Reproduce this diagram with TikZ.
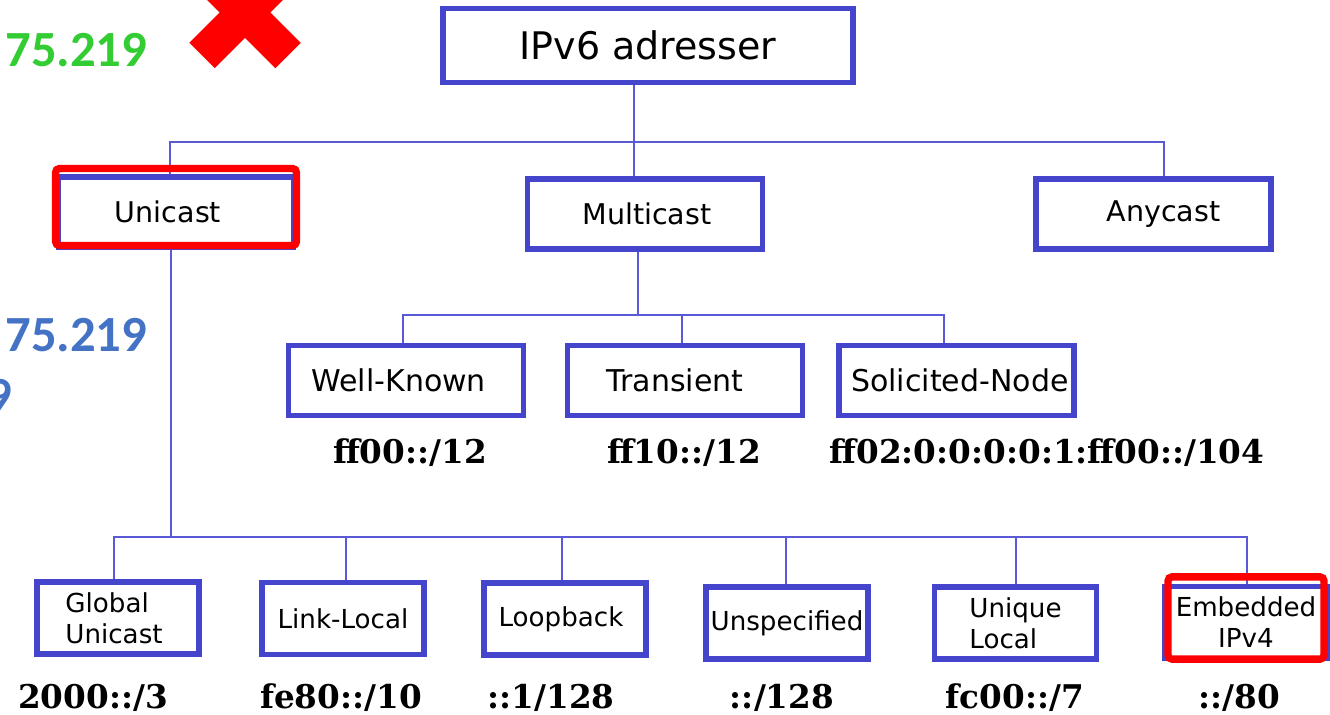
\documentclass[tikz,border=0pt]{standalone}
\usepackage{fontspec}
\setmainfont{DejaVu Sans}
\newfontfamily\addrfont{DejaVu Serif}
\newfontfamily\numfont{Carlito}
\usetikzlibrary{backgrounds}
\definecolor{boxblue}{RGB}{68,68,204}
\definecolor{lineblue}{RGB}{90,90,214}
\definecolor{markred}{RGB}{255,0,0}
\definecolor{numgreen}{RGB}{51,204,51}
\definecolor{numblue}{RGB}{68,114,196}

\begin{document}
\begin{tikzpicture}[x=0.75pt, y=-0.75pt,
  box/.style = {draw=boxblue, line width=4pt, fill=white, inner sep=0pt},
  boxtop/.style = {box, minimum width=307.5pt, minimum height=55.5pt, font=\fontsize{28.5}{34}\selectfont},
  boxmid/.style = {box, minimum width=176.25pt, minimum height=52.5pt, font=\fontsize{21.4}{26}\selectfont},
  boxsub/.style = {box, minimum width=176.25pt, minimum height=52.5pt, font=\fontsize{22.5}{27}\selectfont},
  boxlow/.style = {box, minimum width=121.5pt, minimum height=54pt, font=\fontsize{19.6}{23.3}\selectfont},
  addr/.style = {anchor=base, font=\addrfont\bfseries\fontsize{24.5}{29}\selectfont},
  wire/.style = {draw=lineblue, line width=1.5pt},
  redbox/.style = {draw=markred, line width=5.5pt, rounded corners=3pt, inner sep=0pt},
  num/.style = {anchor=base east, font=\numfont\bfseries\fontsize{38}{46}\selectfont}]
  \useasboundingbox (0,0) rectangle (1330,714);
  \clip (0,0) rectangle (1330,714);

  % boxes
  \node[boxtop] (root) at (648,45.5) {IPv6 adresser};
  \node[boxmid] (uni) at (176,212) {Unicast\hspace*{12pt}};
  \node[boxmid] (multi) at (645,214) {\hspace*{3pt}Multicast};
  \node[boxmid] (any) at (1153.5,214) {\hspace*{15pt}Anycast};

  \node[boxsub] (well) at (406,380.5) {Well-Known\hspace*{11pt}};
  \node[boxsub] (trans) at (685,380.5) {Transient\hspace*{15pt}};
  \node[boxsub] (solic) at (956.5,380.5) {\hspace*{5pt}Solicited-Node};

  \node[boxlow, align=left] (glob) at (118,618) {Global\\Unicast\hspace*{6pt}};
  \node[boxlow] (link) at (343,618.5) {Link-Local};
  \node[boxlow] (loop) at (565,619) {Loopback\hspace*{6pt}};
  \node[boxlow] (unspec) at (787,623) {Unspecified};
  \node[boxlow, align=left] (uniq) at (1015.5,623) {Unique\\Local\hspace*{18pt}};
  \node[boxlow, align=center] (embed) at (1246,622.5) {Embedded\\IPv4};

  % prefixes
  \node[addr] (wellAdr) at (410,463) {ff00::/12};
  \node[addr] (transAdr) at (684,463) {ff10::/12};
  \node[addr] (solicAdr) at (1047,463) {ff02:0:0:0:0:1:ff00::/104};
  \node[addr] (globAdr) at (93,708) {2000::/3};
  \node[addr] (linkAdr) at (341,708) {fe80::/10};
  \node[addr] (loopAdr) at (551,708) {::1/128};
  \node[addr] (unspecAdr) at (782,708) {::/128};
  \node[addr] (uniqAdr) at (1015,708) {fc00::/7};
  \node[addr] (embedAdr) at (1239,708) {::/80};

  % tree lines
  \coordinate (j1) at (633.5,141.5);
  \coordinate (tu) at (169.5,141.5);
  \coordinate (ta) at (1164,141.5);
  \coordinate (j2) at (637.5,315);
  \coordinate (tw) at (403,315);
  \coordinate (tt) at (682,315);
  \coordinate (ts) at (943.5,315);
  \coordinate (j3) at (170.5,537);
  \coordinate (t1) at (113.5,537);
  \coordinate (t2) at (345.5,537);
  \coordinate (t3) at (561.5,537);
  \coordinate (t4) at (786,537);
  \coordinate (t5) at (1016,537);
  \coordinate (t6) at (1246.5,537);
  \begin{pgfonlayer}{background}
    \draw[wire] (root.south -| j1) -- (j1 |- multi.north);
    \draw[wire] (tu |- uni.north) -- (tu) -- (ta) -- (ta |- any.north);
    \draw[wire] (multi.south -| j2) -- (j2);
    \draw[wire] (tw |- well.north) -- (tw) -- (ts) -- (ts |- solic.north);
    \draw[wire] (tt) -- (tt |- trans.north);
    \draw[wire] (uni.south -| j3) -- (j3);
    \draw[wire] (t1 |- glob.north) -- (t1) -- (t6) -- (t6 |- embed.north);
    \draw[wire] (t2) -- (t2 |- link.north);
    \draw[wire] (t3) -- (t3 |- loop.north);
    \draw[wire] (t4) -- (t4 |- unspec.north);
    \draw[wire] (t5) -- (t5 |- uniq.north);
  \end{pgfonlayer}

  % red marks
  \node[redbox, minimum width=180.75pt, minimum height=57.75pt] (uniRed) at (176,207) {};
  \node[redbox, minimum width=117pt, minimum height=61.7pt] (embedRed) at (1246,618) {};
  \draw[markred, line width=27pt] (202,55.5) -- (288,-30.5);
  \draw[markred, line width=27pt] (288,55.5) -- (202,-30.5);

  % cut-off numbers at the left
  \node[num, text=numgreen] (ipGreen) at (152,66.5) {75.219};
  \node[num, text=numblue] (ipBlue) at (152,351) {75.219};
  \node[num, text=numblue] (ipBlue2) at (17,412) {9};
\end{tikzpicture}
\end{document}
